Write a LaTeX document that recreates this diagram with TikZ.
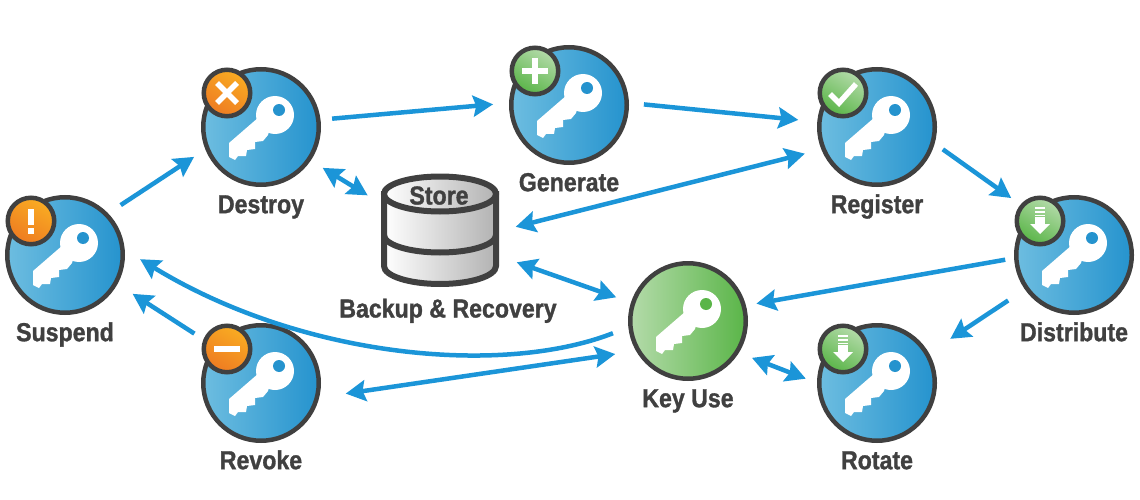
\documentclass[tikz,border=0pt]{standalone}
\usepackage{fontspec}
\setsansfont[FakeStretch=0.89, BoldFeatures={FakeBold=1.2}]{Liberation Sans}
\usetikzlibrary{arrows.meta}
\definecolor{rim}{HTML}{404040}
\definecolor{flowblue}{HTML}{1B95D8}
\definecolor{discblue}{HTML}{2593CE}
\definecolor{discpale}{HTML}{6DBDE0}
\definecolor{discgreen}{HTML}{5AB548}
\definecolor{usepale}{HTML}{B4DBAA}
\definecolor{warnpale}{HTML}{F9AC22}
\definecolor{warndeep}{HTML}{EE7B22}
\tikzstyle{keydisc}=[circle, draw=rim, line width=4.5pt, inner sep=0pt, minimum size=115.5pt, left color=discpale, right color=discblue]
\tikzstyle{usedisc}=[circle, draw=rim, line width=4.5pt, inner sep=0pt, minimum size=115.5pt, left color=usepale, right color=discgreen]
\tikzstyle{warnbadge}=[circle, draw=rim, line width=4.5pt, inner sep=0pt, minimum size=46.5pt, top color=warnpale, bottom color=warndeep, shading angle=-30]
\tikzstyle{okbadge}=[circle, draw=rim, line width=4.5pt, inner sep=0pt, minimum size=46.5pt, top color=usepale, bottom color=discgreen, shading angle=-30]
\tikzstyle{keytext}=[font=\sffamily\bfseries\fontsize{26}{30}\selectfont, text=rim, inner sep=0pt, text height=19pt, text depth=6pt]
\tikzstyle{flow}=[draw=flowblue, line width=4.5pt, -{Stealth[length=20pt, width=21pt, inset=3pt]}]
\tikzstyle{twoway}=[draw=flowblue, line width=4.5pt, {Stealth[length=20pt, width=21pt, inset=3pt]}-{Stealth[length=20pt, width=21pt, inset=3pt]}]
\tikzstyle{mark stroke}=[white, line width=5.5pt]
\tikzstyle{storeline}=[draw=rim, line width=6pt, left color=white, right color=black!30!white]
\newcommand{\keydisc}{\node[keydisc]}
\newcommand{\usedisc}{\node[usedisc]}
\newcommand{\keyglyph}[2]{
  \begin{scope}[shift={(#1)}]
    \fill[white] (-2,-10) -- (-32,16) -- (-32,30) -- (-26,33) -- (-23,29) -- (-15,29) -- (-14,23) -- (-6,22) -- (-6,15) -- (2,14) -- (7,8) -- (13,-12) -- cycle;
    \fill[white] (14,-12) circle[radius=19];
    \fill[#2] (18,-17) circle[radius=6];
  \end{scope}
}
\begin{document}
\begin{tikzpicture}[x=1pt, y=-1pt]
\useasboundingbox (0,0) rectangle (1140,500);

% store cylinder
\node (store) [minimum width=118pt, minimum height=112pt] at (440,231) {};
\path[storeline] (384,194) -- (384,266) arc[start angle=180, end angle=0, x radius=56, y radius=18] -- (496,194) -- cycle;
\draw[rim, line width=6pt] (384,235) arc[start angle=180, end angle=0, x radius=56, y radius=17.5];
\path[storeline] (440,194) ellipse[x radius=56, y radius=17.5];
\node[keytext] (storetext) at (439,198) {Store};
\node[keytext] (backuptext) at (448,311) {Backup \& Recovery};

\keydisc (suspend) at (65,255) [label = {[keytext, label distance=7pt]below: Suspend}] {};
\keyglyph{suspend}{discblue}
\keydisc (destroy) at (261,127) [label = {[keytext, label distance=7pt]below: Destroy}] {};
\keyglyph{destroy}{discblue}
\keydisc (generate) at (569,105) [label = {[keytext, label distance=7pt]below: Generate}] {};
\keyglyph{generate}{discblue}
\keydisc (register) at (877,127) [label = {[keytext, label distance=7pt]below: Register}] {};
\keyglyph{register}{discblue}
\keydisc (distribute) at (1074,255) [label = {[keytext, label distance=7pt]below: Distribute}] {};
\keyglyph{distribute}{discblue}
\keydisc (revoke) at (261,383) [label = {[keytext, label distance=7pt]below: Revoke}] {};
\keyglyph{revoke}{discblue}
\keydisc (rotate) at (877,383) [label = {[keytext, label distance=7pt]below: Rotate}] {};
\keyglyph{rotate}{discblue}
\usedisc (keyuse) at (688,321) [label = {[keytext, label distance=7pt]below: Key Use}] {};
\keyglyph{keyuse}{discgreen}

% badges
\node[warnbadge] (suspendbadge) at ([shift={(-34,-34)}]suspend.center) {};
\fill[white] ([shift={(-3,-12)}]suspendbadge.center) rectangle ([shift={(3,4)}]suspendbadge.center);
\fill[white] ([shift={(-3,7)}]suspendbadge.center) rectangle ([shift={(3,13)}]suspendbadge.center);
\node[warnbadge] (destroybadge) at ([shift={(-34,-34)}]destroy.center) {};
\draw[mark stroke] ([shift={(-10,-10)}]destroybadge.center) -- ([shift={(10,10)}]destroybadge.center);
\draw[mark stroke] ([shift={(10,-10)}]destroybadge.center) -- ([shift={(-10,10)}]destroybadge.center);
\node[warnbadge] (revokebadge) at ([shift={(-34,-34)}]revoke.center) {};
\draw[mark stroke] ([shift={(-13,0)}]revokebadge.center) -- ([shift={(13,0)}]revokebadge.center);
\node[okbadge] (generatebadge) at ([shift={(-34,-34)}]generate.center) {};
\draw[mark stroke] ([shift={(-13,0)}]generatebadge.center) -- ([shift={(13,0)}]generatebadge.center);
\draw[mark stroke] ([shift={(0,-13)}]generatebadge.center) -- ([shift={(0,13)}]generatebadge.center);
\node[okbadge] (registerbadge) at ([shift={(-34,-34)}]register.center) {};
\draw[mark stroke] ([shift={(-13,1)}]registerbadge.center) -- ([shift={(-4,10)}]registerbadge.center) -- ([shift={(13,-9)}]registerbadge.center);
\foreach \badge/\host in {distributebadge/distribute, rotatebadge/rotate} {
  \node[okbadge] (\badge) at ([shift={(-34,-34)}]\host.center) {};
  \fill[white] ([shift={(-5,-4)}]\badge.center) rectangle ([shift={(5,3)}]\badge.center);
  \fill[white] ([shift={(-10,3)}]\badge.center) -- ([shift={(10,3)}]\badge.center) -- ([shift={(0,13)}]\badge.center) -- cycle;
  \foreach \stripe in {-14,-10,-6.5}
    \fill[white] ([shift={(-5,\stripe)}]\badge.center) rectangle ([shift={(5,\stripe+1.7)}]\badge.center);
}

% connectors
\path[flow, shorten <=15pt, shorten >=13.5pt] (suspend.44.5) -- (destroy.202);
\path[flow, shorten <=11.6pt, shorten >=16pt] (destroy.7) -- (generate.178.5);
\path[flow, shorten <=15pt, shorten >=19pt] (generate.2.3) -- (register.175.7);
\path[flow, shorten <=10pt, shorten >=25pt] (register.-16.6) -- (distribute.135);
\path[flow, shorten <=9pt, shorten >=10.6pt] (distribute.183.3) -- (keyuse.15.6);
\path[flow, shorten <=20pt, shorten >=25.6pt] (distribute.215.9) -- (rotate.30.2);
\path[twoway, shorten <=14pt, shorten >=12pt] (keyuse.-32.6) -- (rotate.180);
\path[twoway, shorten <=21pt, shorten >=26.8pt] (keyuse.210.4) -- (revoke.-14.7);
\path[flow, shorten <=16.5pt, shorten >=18pt] (keyuse.186.8) .. controls (500,377) and (300,357) .. (suspend.5.1);
\path[flow, shorten <=23pt, shorten >=18pt] (revoke.142.3) -- (suspend.-29.2);
\path[twoway, shorten <=14pt, shorten >=15.4pt] (destroy.-34.3) -- (store.155.7);
\path[twoway, shorten <=17pt, shorten >=17pt] (register.202.9) -- (store.0);
\path[twoway, shorten <=18.6pt, shorten >=15.6pt] (store.-23.5) -- (keyuse.162.3);
\end{tikzpicture}
\end{document}
